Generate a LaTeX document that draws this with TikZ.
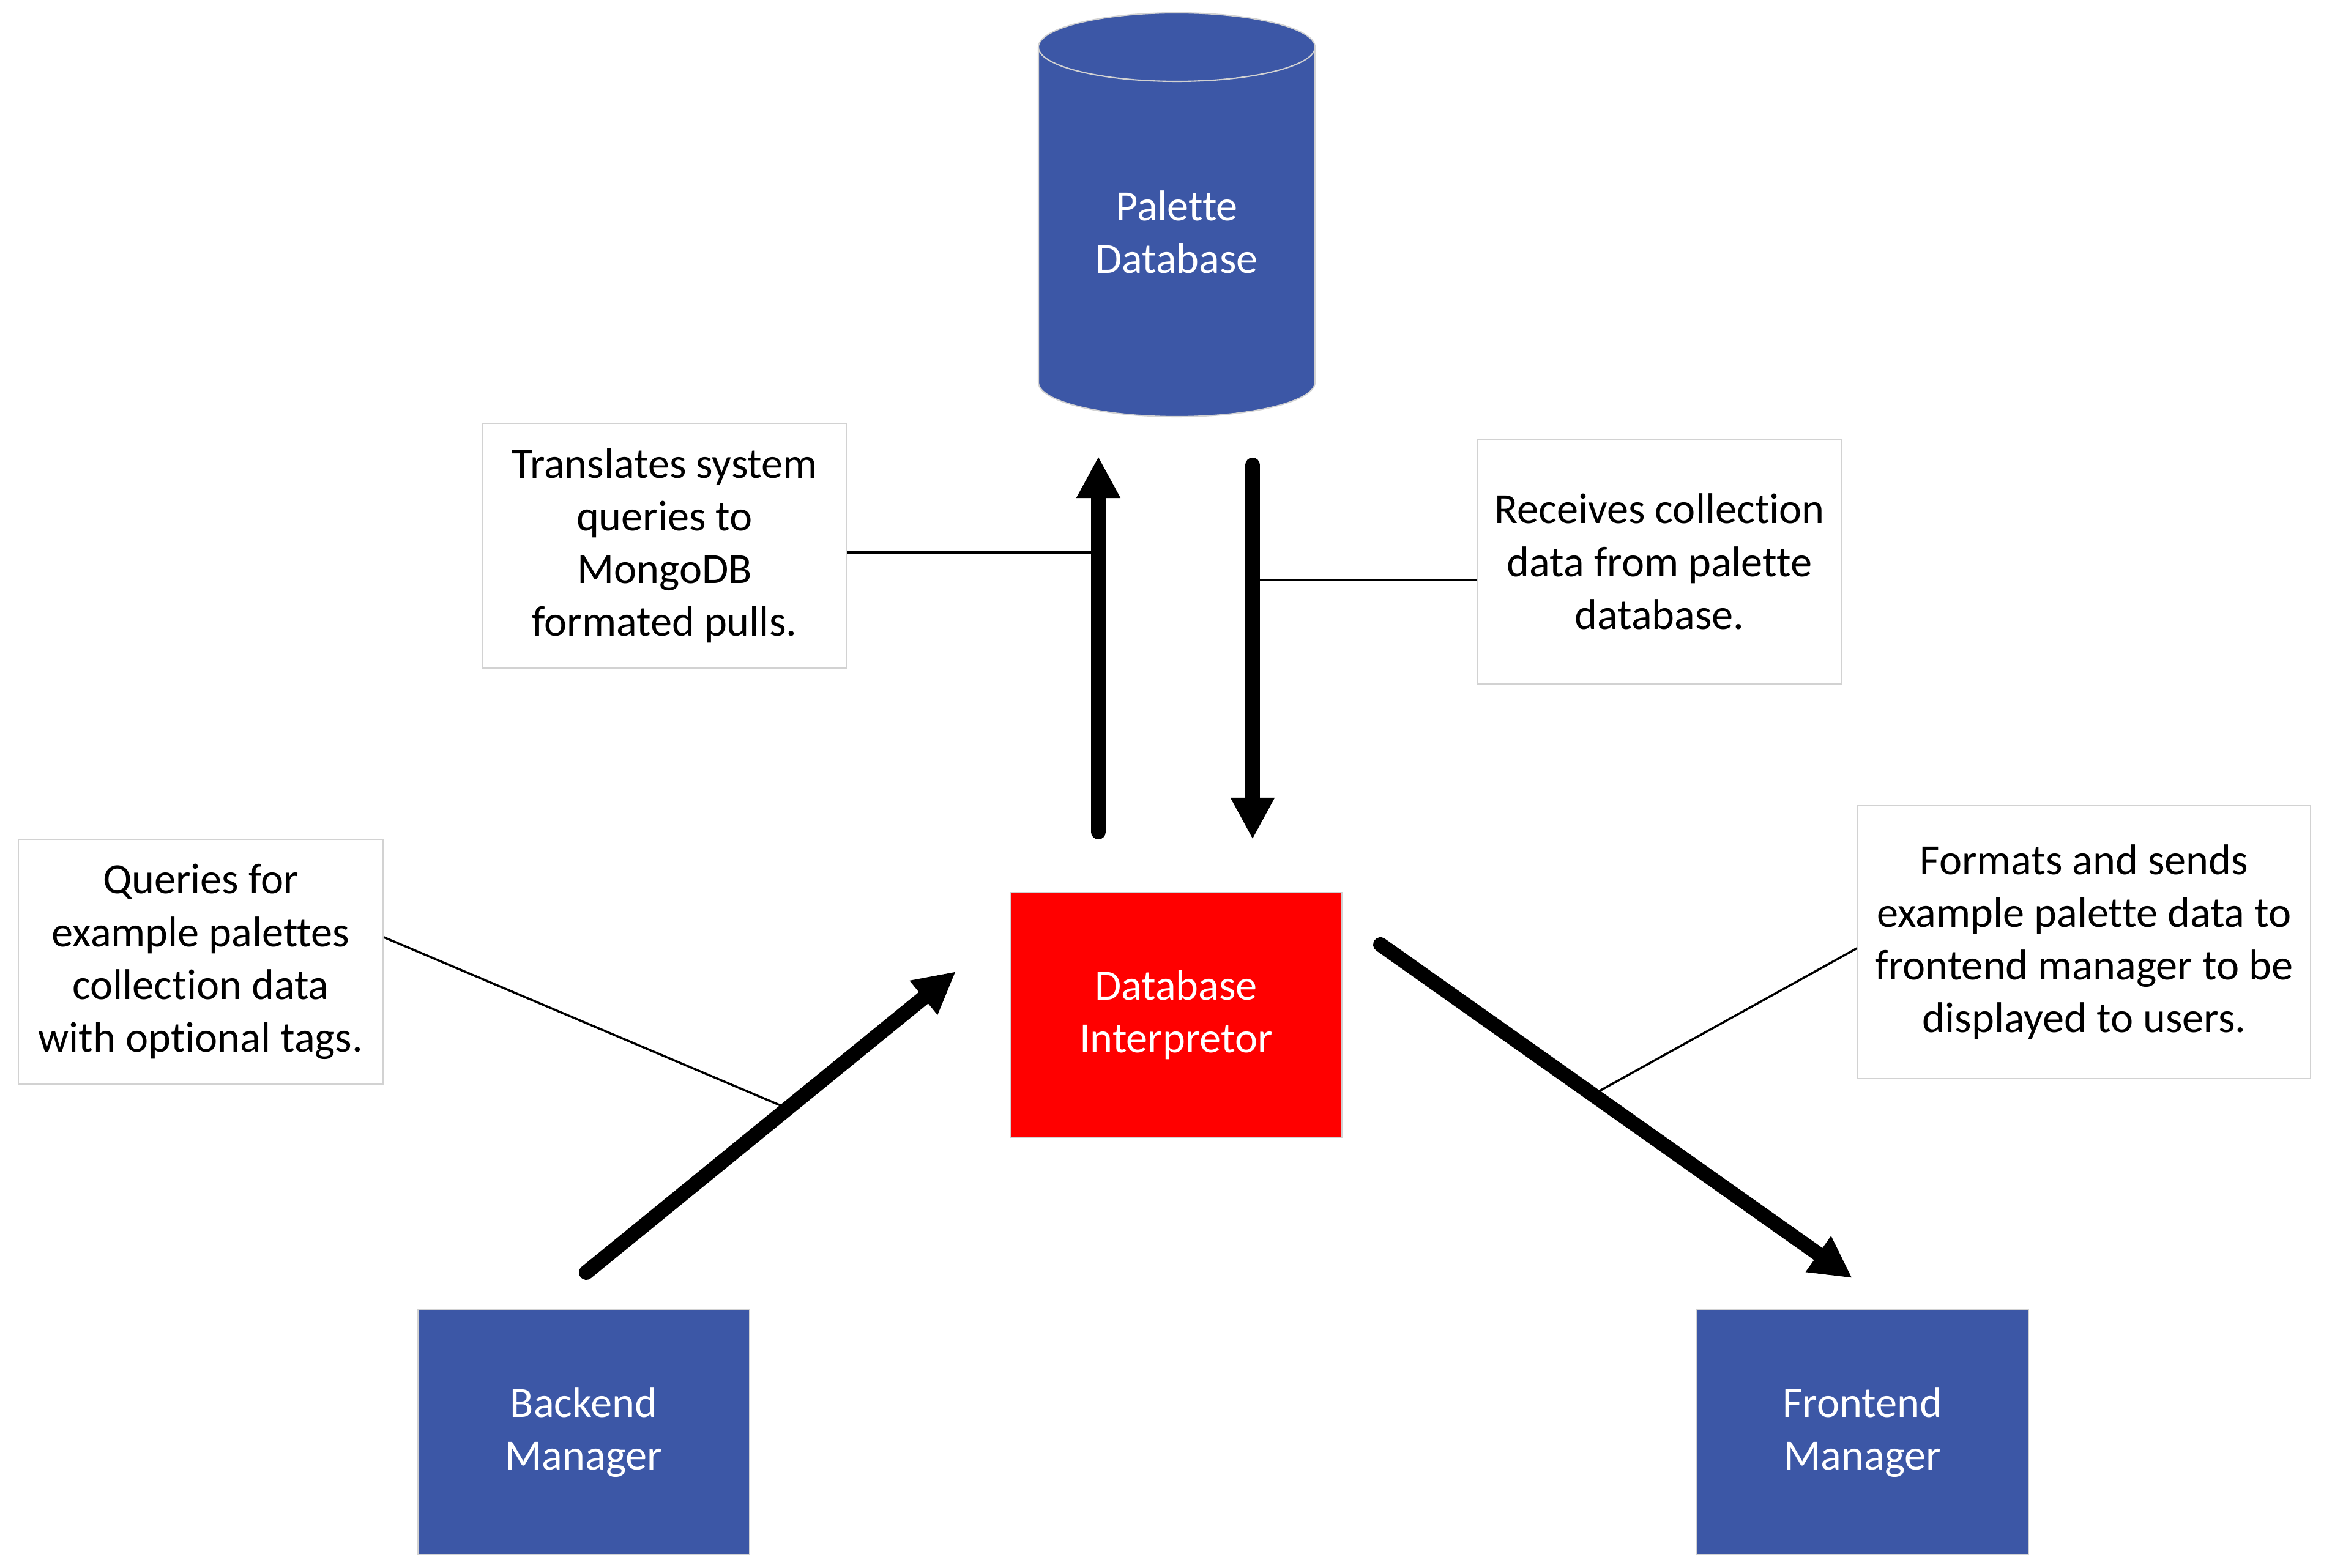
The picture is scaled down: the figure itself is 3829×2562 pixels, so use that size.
\documentclass[tikz,border=0pt]{standalone}
\usepackage{fontspec}
\setmainfont{Carlito}[Ligatures = NoCommon]
\usetikzlibrary{arrows.meta,calc}
\definecolor{boxblue}{RGB}{60,87,166}
\definecolor{boxred}{RGB}{255,0,0}
\definecolor{rimgray}{RGB}{210,210,210}

\begin{document}
\begin{tikzpicture}[x = 0.01cm, y = 0.01cm,
	txt/.style = {font = \fontsize{20}{24.5}\selectfont, align = center, inner sep = 0pt},
	note/.style = {txt, draw = rimgray, line width = 0.6pt, fill = white, minimum width = 5.96cm, minimum height = 4cm},
	block/.style = {txt, text = white, draw = rimgray, line width = 0.6pt, fill = boxblue, minimum width = 5.42cm, minimum height = 3.99cm},
	flow/.style = {line width = 0.24cm, line cap = round, -{Triangle[length = 0.68cm, width = 0.67cm]}},
	link/.style = {line width = 1pt}]

	\useasboundingbox (0,0) rectangle (3829,2562);

	% palette database cylinder
	\filldraw[fill = boxblue, draw = rimgray, line width = 0.6pt]
		(1697,2485) arc[start angle = 180, end angle = 0, x radius = 226, y radius = 56]
		-- (2149,1937) arc[start angle = 0, end angle = -180, x radius = 226, y radius = 56] -- cycle;
	\draw[rimgray, line width = 0.6pt] (1697,2485) arc[start angle = 180, end angle = 360, x radius = 226, y radius = 56];
	\node[txt, text = white] (db) at (1923,2183) {Palette\\Database};

	\node[note] (tr) at (1086,1670) {Translates system\\queries to\\MongoDB\\formated pulls.};
	\node[note] (rc) at (2712,1644) {Receives collection\\data from palette\\database.};
	\node[note] (qu) at (328,990) {Queries for\\example palettes\\collection data\\with optional tags.};
	\node[note, minimum width = 7.40cm, minimum height = 4.45cm] (fm) at (3406,1022)
		{Formats and sends\\example palette data to\\frontend manager to be\\displayed to users.};

	\node[block, fill = boxred] (di) at (1922,903) {Database\\Interpretor};
	\node[block] (bm) at (954,221) {Backend\\Manager};
	\node[block] (fe) at (3044,221) {Frontend\\Manager};

	\coordinate (upTail) at (1795,1202);
	\coordinate (upTip) at (1795,1816);
	\coordinate (dnTail) at (2047,1802);
	\coordinate (dnTip) at (2047,1190);
	\coordinate (inTail) at (958,482);
	\coordinate (inTip) at (1562,974);
	\coordinate (outTail) at (2256,1018);
	\coordinate (outTip) at (3027,473);

	\coordinate (trPin) at ([yshift = -0.11cm]tr.east);
	\coordinate (rcPin) at ([yshift = -0.30cm]rc.west);
	\coordinate (quPin) at ([yshift = 0.40cm]qu.east);
	\coordinate (fmPin) at ([yshift = -0.10cm]fm.west);

	\draw[link] (trPin) -- (trPin -| upTail);
	\draw[link] (rcPin) -- (rcPin -| dnTail);
	\draw[link] (quPin) -- ($(inTail)!0.545!(inTip)$);
	\draw[link] (fmPin) -- ($(outTail)!0.45!(outTip)$);

	\draw[flow] (upTail) -- (upTip);
	\draw[flow] (dnTail) -- (dnTip);
	\draw[flow] (inTail) -- (inTip);
	\draw[flow] (outTail) -- (outTip);
\end{tikzpicture}
\end{document}
